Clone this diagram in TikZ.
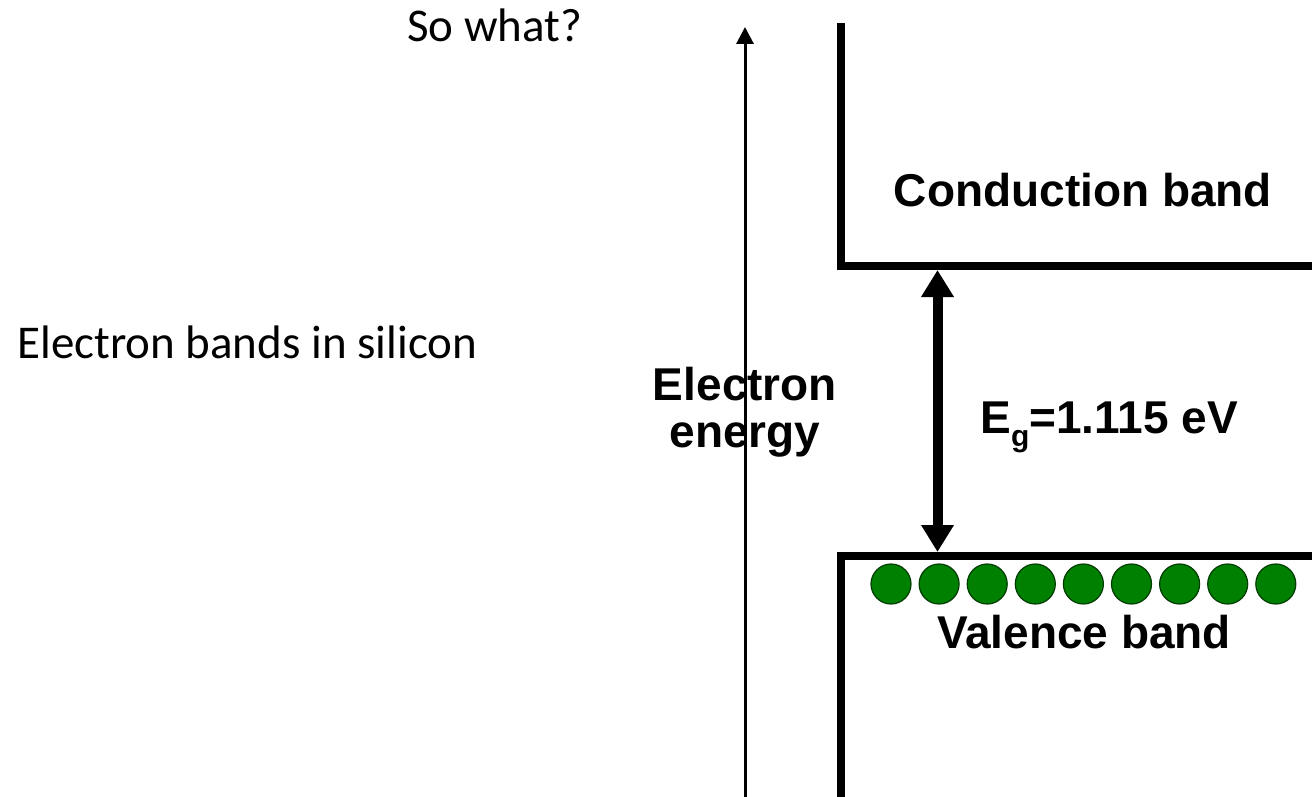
\documentclass[tikz,border=0pt]{standalone}
\usepackage{fontspec}
\newfontfamily\arialfont{Liberation Sans}
\newfontfamily\slidefont{Carlito}
\usetikzlibrary{arrows.meta,positioning}
\definecolor{dotcol}{RGB}{0,128,0}
\definecolor{dotline}{RGB}{0,60,0}

\begin{document}
\begin{tikzpicture}[
  x=0.5pt, y=-0.5pt,
  slide/.style={font=\slidefont\fontsize{23.5}{27}\selectfont, inner sep=0pt},
  lbl/.style={font=\arialfont\bfseries\fontsize{23}{23.5}\selectfont, inner sep=0pt, align=center},
  band/.style={line width=3.8pt, line join=miter},
  axis/.style={line width=1.5pt, -{Triangle[length=8.5pt,width=8.5pt]}},
  gap/.style={line width=5pt, {Triangle[length=13.5pt,width=15.5pt]}-{Triangle[length=13.5pt,width=15.5pt]}},
  elec/.style={circle, fill=dotcol, draw=dotline, line width=0.6pt, minimum size=20pt, inner sep=0pt}
]
\useasboundingbox[fill=white] (0,0) rectangle (1312,797);

% slide texts
\node[slide, anchor=base west] (sowhat) at (407,42) {So what?};
\node[slide, anchor=base west] (title) at (17,358) {Electron bands in silicon};

% energy axis
\coordinate (ebot) at (745,797);
\coordinate (etop) at (745,27);
\node[lbl] (elabel) at (745,412) {Electron\\energy};
\draw[axis] (ebot) -- (etop);

% conduction band
\coordinate (cbtop) at (841,23);
\coordinate (cbcorner) at (841,266);
\coordinate (cbright) at (1312,266);
\draw[band] (cbtop) -- (cbcorner) -- (cbright);
\node[lbl, anchor=base] (cb) at (1083,206) {Conduction band};

% valence band
\coordinate (vbright) at (1312,556);
\coordinate (vbcorner) at (841,556);
\coordinate (vbbot) at (841,797);
\draw[band] (vbright) -- (vbcorner) -- (vbbot);
\node[lbl, anchor=base] (vb) at (1084,648) {Valence band};

% band gap
\coordinate (gaptop) at (937.5,270);
\coordinate (gapbot) at (937.5,552);
\draw[gap] (gaptop) -- (gapbot);
\node[lbl, anchor=base west] (eg) at (980,433) {E\raisebox{-0.3em}{\fontsize{15}{15}\selectfont g}=1.115 eV};

% electrons
\foreach \i in {0,...,8}
  \node[elec] (e\i) at (891+48.1*\i,584) {};
\end{tikzpicture}
\end{document}
